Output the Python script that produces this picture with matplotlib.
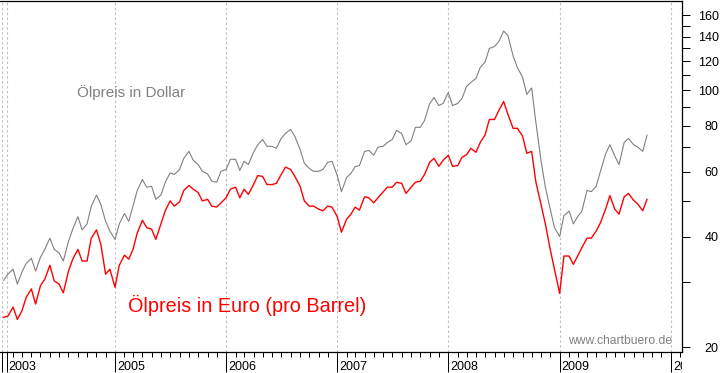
import matplotlib
matplotlib.use("Agg")
import matplotlib.pyplot as plt
import matplotlib.dates as mdates
from matplotlib.ticker import FixedLocator, FixedFormatter, NullFormatter
from matplotlib.transforms import Bbox, TransformedBbox, ScaledTranslation
import pandas as pd

termine = pd.date_range("2004-01-01", periods=140, freq="SMS")

oel_dollar = [
    30.4, 31.6, 32.6, 29.7, 32.0, 33.8, 34.9, 32.2, 35.1, 36.9, 39.6, 36.9,
    36.1, 34.3, 38.8, 41.9, 45.3, 41.7, 43.3, 48.4, 51.9, 49.0, 44.0, 41.4,
    39.3, 43.3, 46.2, 44.0, 48.4, 53.4, 57.2, 54.5, 54.8, 50.5, 51.9, 56.2,
    59.6, 59.0, 60.9, 65.3, 68.2, 64.5, 62.8, 60.2, 59.2, 56.6, 56.2, 60.2,
    60.9, 64.9, 64.9, 60.5, 64.1, 62.8, 67.8, 71.1, 73.5, 70.4, 70.4, 69.5,
    74.0, 76.3, 78.3, 74.9, 69.1, 63.3, 61.3, 60.2, 60.2, 60.9, 63.7, 64.1,
    58.7, 53.0, 57.9, 59.4, 62.0, 62.4, 68.2, 68.6, 66.6, 70.0, 70.4, 72.1,
    73.5, 77.8, 76.2, 71.1, 72.9, 79.3, 79.3, 82.8, 92.1, 95.6, 90.9, 92.1,
    98.6, 90.9, 92.1, 95.0, 102.4, 105.0, 107.7, 115.4, 119.4, 130.0, 131.6, 135.7,
    145.0, 141.0, 124.0, 115.4, 108.6, 97.5, 101.5, 81.6, 64.1, 54.5, 47.5, 42.3,
    40.0, 45.6, 46.9, 43.3, 45.3, 46.9, 53.4, 53.0, 54.8, 60.2, 67.1, 71.1,
    66.3, 62.8, 72.1, 74.0, 71.1, 70.0, 68.2, 75.5,
]

oel_euro = [
    24.1, 24.3, 25.7, 23.8, 25.1, 27.3, 28.8, 26.2, 29.4, 30.6, 33.4, 30.3,
    29.7, 28.1, 32.2, 34.7, 36.9, 34.3, 34.3, 39.6, 41.7, 38.2, 31.6, 32.6,
    29.1, 33.4, 35.6, 34.7, 36.9, 40.9, 44.3, 42.3, 41.9, 39.3, 43.3, 47.0,
    50.0, 48.4, 49.7, 53.4, 55.1, 53.8, 52.7, 50.0, 50.5, 48.4, 48.1, 49.4,
    51.0, 53.8, 54.5, 51.0, 53.8, 52.1, 55.4, 58.6, 58.3, 55.4, 55.4, 55.8,
    59.0, 61.8, 60.9, 58.3, 54.8, 50.0, 48.4, 48.4, 47.5, 47.0, 48.4, 48.1,
    45.3, 41.1, 44.6, 46.0, 48.1, 47.2, 51.3, 51.0, 49.4, 51.0, 52.9, 54.5,
    54.5, 56.2, 55.8, 52.4, 54.5, 56.2, 56.6, 59.0, 63.7, 65.3, 62.1, 64.5,
    66.6, 62.1, 62.4, 65.7, 66.8, 69.5, 67.8, 72.1, 75.6, 83.3, 83.3, 88.1,
    93.2, 86.0, 78.8, 78.8, 75.1, 67.4, 68.2, 56.2, 48.8, 43.3, 36.9, 32.6,
    28.0, 35.4, 35.4, 33.6, 35.4, 37.3, 39.6, 39.6, 41.4, 43.6, 47.5, 51.7,
    47.5, 46.0, 51.3, 52.4, 50.2, 49.0, 47.0, 50.5,
]

y_ticks = [20, 40, 60, 80, 100, 120, 140, 160]
y_minor = [30, 50, 70, 90, 110, 130, 150]
x_ticks = ["2003-12-27", "2004-01-11", "2005-01-01", "2006-01-01", "2007-01-01",
           "2008-01-01", "2009-01-01", "2010-01-01"]
x_labels = ["", "2003", "2005", "2006", "2007", "2008", "2009", "2010"]

fig = plt.figure(figsize=(7.23, 3.73), dpi=100)
ax = fig.add_axes([0, 1 - 352 / 373, 682 / 723, 351 / 373])

ax.plot(termine, oel_dollar, color="#808080", lw=0.8)
ax.plot(termine, oel_euro, color="#ff0000", lw=1.0)

ax.set_yscale("log")
ax.set_ylim(19.4, 175)
ax.set_xlim(pd.Timestamp("2003-12-20"), pd.Timestamp("2010-02-07"))

# y-Achse rechts
ax.yaxis.tick_right()
ax.yaxis.set_major_locator(FixedLocator(y_ticks))
ax.yaxis.set_major_formatter(FixedFormatter([str(v) for v in y_ticks]))
ax.yaxis.set_minor_locator(FixedLocator(y_minor))
ax.yaxis.set_minor_formatter(NullFormatter())
ax.tick_params(axis="y", which="both", length=5.5, width=0.72, direction="out",
               pad=21, labelsize=9)

# x-Achse
ax.xaxis.set_major_locator(FixedLocator(mdates.date2num(pd.to_datetime(x_ticks))))
ax.xaxis.set_major_formatter(FixedFormatter(x_labels))
ax.xaxis.set_minor_locator(mdates.MonthLocator(bymonth=range(2, 13)))
ax.tick_params(axis="x", which="major", length=14.4, width=0.72, pad=-8, labelsize=9)
ax.tick_params(axis="x", which="minor", length=3.6, width=0.72)

ax.grid(axis="x", which="major", color="#c0c0c0", linestyle=(0, (2.2, 2.2)), lw=0.8)

ax.spines["left"].set_visible(False)
for s in ["top", "right", "bottom"]:
    ax.spines[s].set_linewidth(0.9)

for lbl in ax.get_yticklabels():
    lbl.set_horizontalalignment("right")
    lbl.set_fontfamily("Liberation Sans")

clip = TransformedBbox(Bbox([[0, 0], [682 / 723, 1]]), fig.transFigure)
shift = ScaledTranslation(1.5 / 72, 0, fig.dpi_scale_trans)
for lbl in ax.get_xticklabels():
    lbl.set_horizontalalignment("left")
    lbl.set_fontfamily("Liberation Sans")
    lbl.set_transform(lbl.get_transform() + shift)
    lbl.set_clip_box(clip)
    lbl.set_clip_on(True)

fig.text(77 / 723, 1 - 97.5 / 373, "Ölpreis in Dollar", color="#808080",
         fontsize=11, family="Liberation Sans", va="baseline", ha="left")
fig.text(128 / 723, 1 - 311.5 / 373, "Ölpreis in Euro (pro Barrel)", color="#ff0000",
         fontsize=14.3, family="Liberation Sans", va="baseline", ha="left")
fig.text(672 / 723, 1 - 344 / 373, "www.chartbuero.de", color="#808080",
         fontsize=8.7, family="Liberation Sans", va="baseline", ha="right")

fig.savefig("out.png", dpi=100)
